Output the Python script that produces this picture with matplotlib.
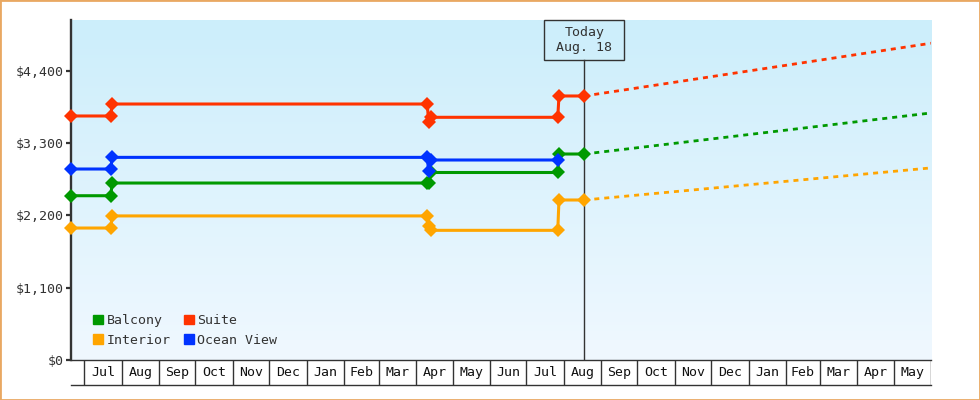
import matplotlib
matplotlib.use("Agg")
import matplotlib.pyplot as plt
import matplotlib.dates as mdates
from matplotlib.patches import Patch, Rectangle
import matplotlib.transforms as mtransforms
import numpy as np
import pandas as pd

# price history
suite_dates = ["2023-06-20", "2023-07-23", "2023-07-24", "2024-04-10", "2024-04-11",
               "2024-04-13", "2024-07-27", "2024-07-28", "2024-08-18"]
suite_prices = [3709, 3709, 3891, 3891, 3625, 3689, 3689, 4013, 4013]

ocean_dates = ["2023-06-20", "2023-07-23", "2023-07-24", "2024-04-10", "2024-04-11",
               "2024-04-13", "2024-07-27"]
ocean_prices = [2903, 2903, 3080, 3080, 2873, 3040, 3040]

balcony_dates = ["2023-06-20", "2023-07-23", "2023-07-24", "2024-04-10", "2024-04-11",
                 "2024-04-13", "2024-07-27", "2024-07-28", "2024-08-18"]
balcony_prices = [2497, 2497, 2690, 2690, 2690, 2850, 2850, 3131, 3131]

interior_dates = ["2023-06-20", "2023-07-23", "2023-07-24", "2024-04-10", "2024-04-11",
                  "2024-04-13", "2024-07-27", "2024-07-28", "2024-08-18"]
interior_prices = [2006, 2006, 2190, 2190, 2032, 1971, 1971, 2432, 2432]

# forecast (dashed)
forecast_dates = ["2024-08-18", "2025-06-01"]
suite_forecast = [4013, 4815]
balcony_forecast = [3131, 3755]
interior_forecast = [2432, 2920]

today = "2024-08-18"
today_label = "Today\nAug. 18"
x_start, x_end = "2023-06-20", "2025-06-01"
y_ticks = [0, 1100, 2200, 3300, 4400]
y_max = 5168

colors = {"Balcony": "#009900", "Interior": "#FFA500", "Suite": "#FF3300", "Ocean View": "#0033FF"}
dark = "#333333"

plt.rcParams['font.family'] = ['DejaVu Sans Mono']
plt.rcParams['font.size'] = 9.5

fig = plt.figure(figsize=(9.8, 4.0), dpi=100)
ax = fig.add_axes([71 / 980, 40 / 400, 860 / 980, 340 / 400])
ax2 = fig.add_axes([71 / 980, 15 / 400, 860 / 980, 25 / 400], sharex=ax)

# background gradient
grad = np.linspace(0, 1, 256).reshape(-1, 1)
top_c = np.array([204, 238, 251]) / 255
bot_c = np.array([240, 248, 255]) / 255
img = top_c * (1 - grad[..., None]) + bot_c * grad[..., None]
ax.imshow(img, extent=[0, 1, 0, 1], transform=ax.transAxes, aspect='auto', zorder=0)

def d(lst):
    return pd.to_datetime(lst)

series = [
    ("Balcony", balcony_dates, balcony_prices),
    ("Interior", interior_dates, interior_prices),
    ("Suite", suite_dates, suite_prices),
    ("Ocean View", ocean_dates, ocean_prices),
]
for name, dts, vals in series:
    ax.plot(d(dts), vals, color=colors[name], lw=2.2, marker='D', ms=6.8,
            mew=0, zorder=4, clip_on=False)

for name, vals in [("Suite", suite_forecast), ("Balcony", balcony_forecast),
                   ("Interior", interior_forecast)]:
    ax.plot(d(forecast_dates), vals, color=colors[name], lw=2.0,
            linestyle=(0, (1.8, 1.8)), zorder=3, dash_capstyle='butt')

xmin, xmax = pd.Timestamp(x_start), pd.Timestamp(x_end)
ax.set_xlim(xmin, xmax)
ax.set_ylim(0, y_max)

# today marker
tday = pd.Timestamp(today)
box_frac = 40 / 340
ax.axvline(tday, ymin=0, ymax=1 - box_frac, color=dark, lw=1, zorder=2)
trans = mtransforms.blended_transform_factory(ax.transData, ax.transAxes)
half = pd.Timedelta(days=33)
ax.add_patch(Rectangle((mdates.date2num(tday - half), 1 - box_frac),
                       mdates.date2num(tday + half) - mdates.date2num(tday - half),
                       box_frac, transform=trans, fill=False, ec=dark, lw=1,
                       zorder=5, clip_on=False))
ax.text(tday, 1 - box_frac / 2, today_label, transform=trans, ha='center',
        va='center', color=dark, linespacing=1.25, zorder=6)

# axes styling
for s in ['top', 'right']:
    ax.spines[s].set_visible(False)
ax.spines['left'].set_color(dark)
ax.spines['left'].set_linewidth(1.7)
ax.spines['bottom'].set_color(dark)
ax.spines['bottom'].set_linewidth(1)
ax.set_yticks(y_ticks)
ax.set_yticklabels(["${:,}".format(v) for v in y_ticks])
ax.tick_params(axis='y', direction='out', length=3.8, width=1.6, color=dark,
               labelcolor=dark, pad=1.5)
ax.tick_params(axis='x', bottom=False, labelbottom=False)

# month cells under the axis
for s in ['top', 'left', 'right']:
    ax2.spines[s].set_visible(False)
ax2.spines['bottom'].set_color(dark)
ax2.spines['bottom'].set_linewidth(1)
ax2.set_yticks([])
ax2.tick_params(axis='x', bottom=False, labelbottom=False)
ax2.set_ylim(0, 1)
ax2.patch.set_alpha(0)
trans2 = mtransforms.blended_transform_factory(ax2.transData, ax2.transAxes)
months = pd.date_range(xmin, xmax, freq='MS')
for m in months:
    ax2.axvline(m, color=dark, lw=1)
for m0, m1 in zip(months[:-1], months[1:]):
    mid = m0 + (m1 - m0) / 2
    ax2.text(mid, 0.5, m0.strftime('%b'), transform=trans2, ha='center',
             va='center', color='#111111')

# legend
handles = [Patch(color=colors[n], label=n) for n in ["Balcony", "Interior", "Suite", "Ocean View"]]
ax.legend(handles=handles, ncol=2, loc='lower left', bbox_to_anchor=(0.0259, 0.039),
          frameon=False, borderpad=0, borderaxespad=0, handlelength=0.76,
          handleheight=0.76, handletextpad=0.26, columnspacing=1.0,
          labelspacing=0.5, labelcolor=dark)

# outer orange frame
fig.patches.append(Rectangle((0, 0), 1, 1, transform=fig.transFigure, fill=False,
                             ec='#E9A862', lw=2, zorder=10))

fig.savefig('out.png', dpi=100)
